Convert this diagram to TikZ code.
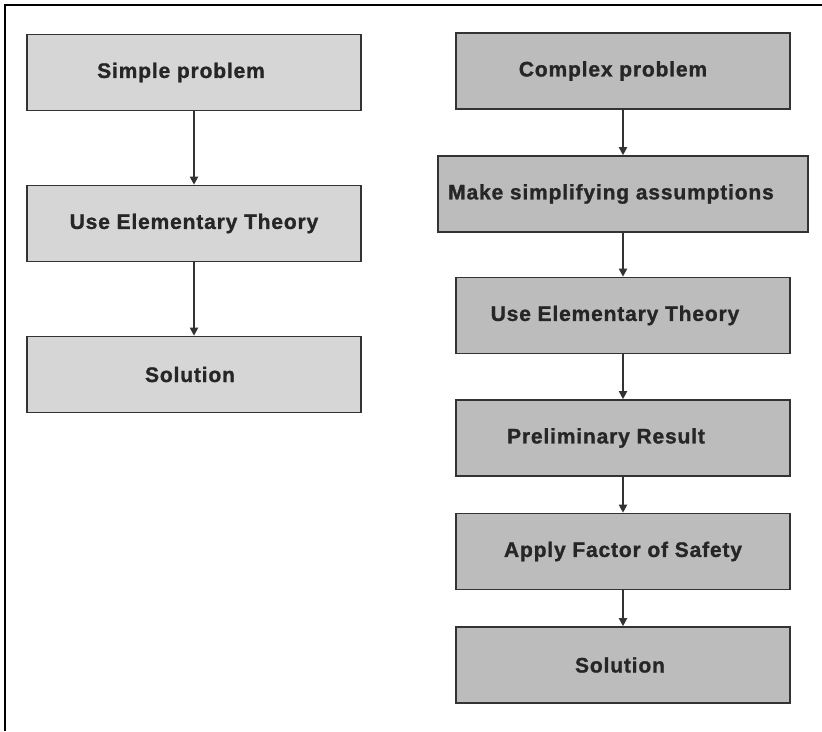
\documentclass[tikz,border=0pt]{standalone}
\usepackage{fontspec}
\setmainfont{Liberation Sans}
\newfontfamily\boxfont[LetterSpace=4,FakeBold=1.2]{Liberation Sans}
\usetikzlibrary{arrows.meta}
\definecolor{lightbox}{HTML}{D6D6D6}
\definecolor{darkbox}{HTML}{BCBCBC}
\definecolor{edge}{HTML}{333333}
\begin{document}
\begin{tikzpicture}[x=1pt,y=-1pt,
  flowbox/.style={draw=edge, line width=1.6pt, minimum height=76pt,
    inner sep=0pt, font=\boxfont\fontsize{21}{24}\selectfont\bfseries, text=black!85},
  simplebox/.style={flowbox, fill=lightbox, minimum width=334pt},
  complexbox/.style={flowbox, fill=darkbox, minimum width=334pt},
  flowarrow/.style={draw=edge, line width=1.8pt, -{Triangle[length=8pt,width=8pt]}}]
  \useasboundingbox (0,0) rectangle (822,731);
  % open frame: top and left rules only
  \draw[line width=2pt, black] (822,5) -- (5,5) -- (5,731);

  % simple path
  \node[simplebox] (s1) at (194,72.5) {Simple problem\hspace*{26pt}};
  \node[simplebox] (s2) at (194,223.5) {Use Elementary Theory};
  \node[simplebox] (s3) at (194,374.5) {Solution\hspace*{8pt}};
  \draw[flowarrow] (s1) -- (s2);
  \draw[flowarrow] (s2) -- (s3);

  % complex path
  \node[complexbox] (c1) at (623,71) {Complex problem\hspace*{20pt}};
  \node[complexbox, minimum width=370pt] (c2) at (623,194) {Make simplifying assumptions\hspace*{24pt}};
  \node[complexbox] (c3) at (623,315.5) {Use Elementary Theory\hspace*{16pt}};
  \node[complexbox] (c4) at (623,438) {Preliminary Result\hspace*{34pt}};
  \node[complexbox] (c5) at (623,551.5) {Apply Factor of Safety};
  \node[complexbox] (c6) at (623,665) {Solution\hspace*{6pt}};
  \draw[flowarrow] (c1) -- (c2);
  \draw[flowarrow] (c2) -- (c3);
  \draw[flowarrow] (c3) -- (c4);
  \draw[flowarrow] (c4) -- (c5);
  \draw[flowarrow] (c5) -- (c6);
\end{tikzpicture}
\end{document}
